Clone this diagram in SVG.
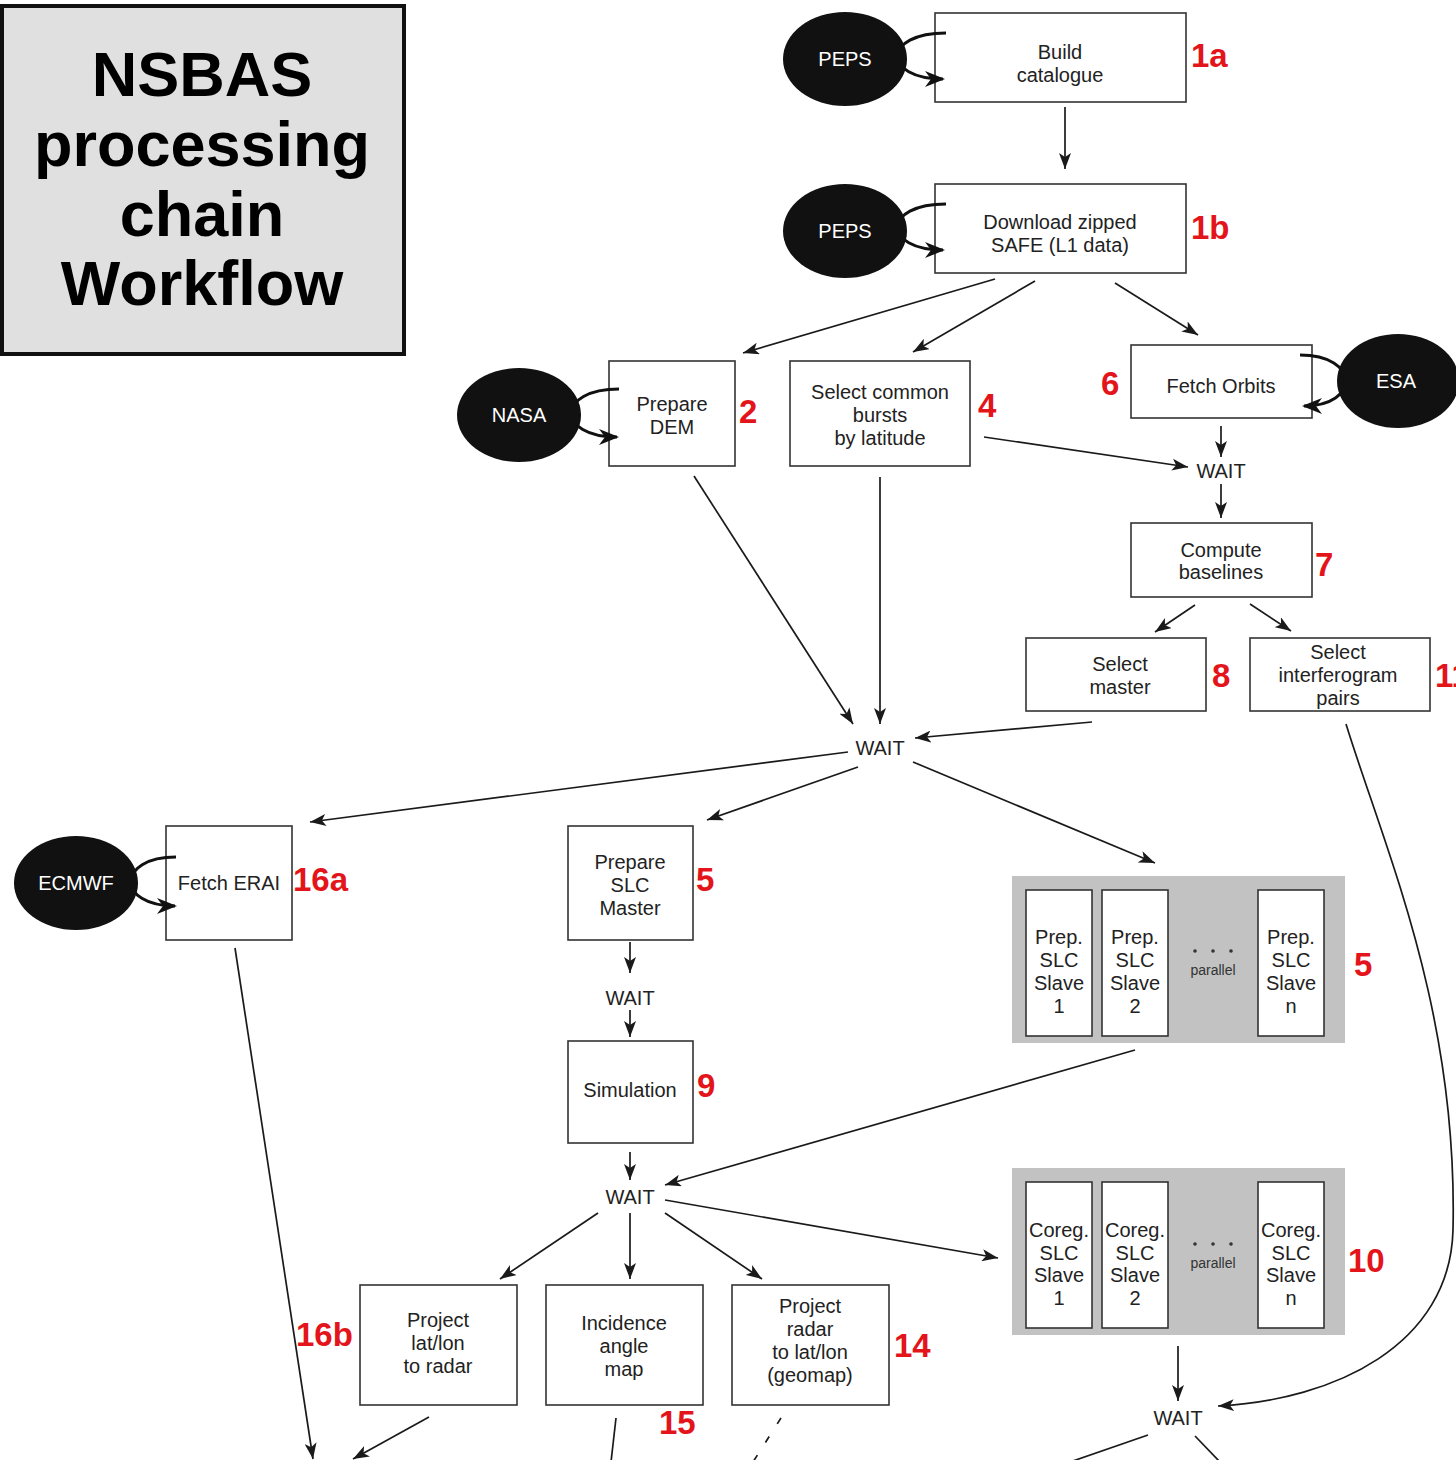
<svg xmlns="http://www.w3.org/2000/svg" width="1456" height="1460" viewBox="0 0 1456 1460">
<defs>
<marker id="ah" viewBox="0 0 16 12" refX="16" refY="6" markerWidth="16" markerHeight="12" markerUnits="userSpaceOnUse" orient="auto">
<path d="M0,0 L16,6 L0,12 L4,6 z" fill="#1a1a1a"/>
</marker>
<marker id="ahb" viewBox="0 0 20 16" refX="18" refY="8" markerWidth="20" markerHeight="16" markerUnits="userSpaceOnUse" orient="auto">
<path d="M0,0 L20,8 L0,16 L6,8 z" fill="#111"/>
</marker>
</defs>
<style>
.box{fill:#fff;stroke:#333;stroke-width:1.6}
.sub{fill:#fff;stroke:#333;stroke-width:1.6}
.grp{fill:#c2c2c2}
.src{fill:#111}
.t{font-family:"Liberation Sans",Arial,sans-serif;font-size:20px;fill:#222;text-anchor:middle}
.st{font-family:"Liberation Sans",Arial,sans-serif;font-size:20px;fill:#fff;text-anchor:middle}
.par{font-family:"Liberation Sans",Arial,sans-serif;font-size:14px;fill:#333;text-anchor:middle}
.n{font-family:"Liberation Sans",Arial,sans-serif;font-size:33px;font-weight:bold;fill:#e3151b}
.ttl{font-family:"Liberation Sans",Arial,sans-serif;font-size:63px;font-weight:bold;fill:#000;text-anchor:middle}
.c{fill:none;stroke:#1a1a1a;stroke-width:1.7}
.ca{fill:none;stroke:#1a1a1a;stroke-width:1.7;marker-end:url(#ah)}
.loop{fill:none;stroke:#111;stroke-width:3;marker-end:url(#ahb)}
</style>
<g id="title">
<rect x="2" y="6" width="402" height="348" fill="#e0e0e0" stroke="#111" stroke-width="4"/>
<text class="ttl" x="202" y="96">NSBAS</text>
<text class="ttl" x="202" y="166">processing</text>
<text class="ttl" x="202" y="236">chain</text>
<text class="ttl" x="202" y="305">Workflow</text>
</g>
<g id="connectors">
<line class="ca" x1="1065" y1="107" x2="1065" y2="169"/>
<line class="ca" x1="995" y1="279" x2="743" y2="353"/>
<line class="ca" x1="1035" y1="281" x2="913" y2="352"/>
<line class="ca" x1="1115" y1="283" x2="1198" y2="335"/>
<line class="ca" x1="1221" y1="426" x2="1221" y2="457"/>
<line class="ca" x1="984" y1="437" x2="1188" y2="467"/>
<line class="ca" x1="1221" y1="484" x2="1221" y2="518"/>
<line class="ca" x1="1195" y1="605" x2="1155" y2="632"/>
<line class="ca" x1="1250" y1="604" x2="1291" y2="631"/>
<line class="ca" x1="694" y1="476" x2="853" y2="724"/>
<line class="ca" x1="880" y1="477" x2="880" y2="724"/>
<line class="ca" x1="1092" y1="722" x2="915" y2="738"/>
<line class="ca" x1="848" y1="752" x2="310" y2="822"/>
<line class="ca" x1="858" y1="767" x2="707" y2="820"/>
<line class="ca" x1="913" y1="762" x2="1155" y2="863"/>
<line class="ca" x1="630" y1="942" x2="630" y2="973"/>
<line class="ca" x1="630" y1="1010" x2="630" y2="1037"/>
<line class="ca" x1="630" y1="1152" x2="630" y2="1180"/>
<line class="ca" x1="1135" y1="1050" x2="665" y2="1185"/>
<line class="ca" x1="598" y1="1213" x2="500" y2="1279"/>
<line class="ca" x1="630" y1="1213" x2="630" y2="1279"/>
<line class="ca" x1="665" y1="1213" x2="762" y2="1279"/>
<line class="ca" x1="665" y1="1200" x2="998" y2="1258"/>
<line class="ca" x1="1178" y1="1346" x2="1178" y2="1401"/>
<path class="ca" d="M1346,724 C1385,850 1458,1010 1453,1230 C1450,1345 1335,1400 1218,1406"/>
<line class="c" x1="1148" y1="1435" x2="1070" y2="1462"/>
<line class="c" x1="1195" y1="1436" x2="1220" y2="1462"/>
<line class="ca" x1="235" y1="948" x2="313" y2="1459"/>
<line class="ca" x1="429" y1="1417" x2="353" y2="1459"/>
<line class="c" x1="616" y1="1418" x2="611" y2="1462"/>
<line class="c" x1="781" y1="1418" x2="753" y2="1462" stroke-dasharray="7,15"/>
</g>
<g id="n1a">
<ellipse class="src" cx="845" cy="59" rx="62" ry="47"/>
<text class="st" x="845" y="66">PEPS</text>
<rect class="box" x="935" y="13" width="251" height="89"/>
<text class="t" x="1060" y="59">Build</text>
<text class="t" x="1060" y="82">catalogue</text>
<path class="loop" d="M946,33 C882,33 882,79 943,79"/>
<text class="n" x="1191" y="67">1a</text>
</g>
<g id="n1b">
<ellipse class="src" cx="845" cy="231" rx="62" ry="47"/>
<text class="st" x="845" y="238">PEPS</text>
<rect class="box" x="935" y="184" width="251" height="89"/>
<text class="t" x="1060" y="229">Download zipped</text>
<text class="t" x="1060" y="252">SAFE (L1 data)</text>
<path class="loop" d="M946,204 C882,204 882,250 943,250"/>
<text class="n" x="1191" y="239">1b</text>
</g>
<g id="n2">
<ellipse class="src" cx="519" cy="415" rx="62" ry="47"/>
<text class="st" x="519" y="422">NASA</text>
<rect class="box" x="609" y="361" width="126" height="105"/>
<text class="t" x="672" y="411">Prepare</text>
<text class="t" x="672" y="434">DEM</text>
<path class="loop" d="M619,389 C556,389 556,437 617,437"/>
<text class="n" x="739" y="423">2</text>
</g>
<g id="n4">
<rect class="box" x="790" y="361" width="180" height="105"/>
<text class="t" x="880" y="399">Select common</text>
<text class="t" x="880" y="422">bursts</text>
<text class="t" x="880" y="445">by latitude</text>
<text class="n" x="978" y="417">4</text>
</g>
<g id="n6">
<rect class="box" x="1131" y="345" width="181" height="73"/>
<text class="t" x="1221" y="393">Fetch Orbits</text>
<ellipse class="src" cx="1398" cy="381" rx="61" ry="47"/>
<text class="st" x="1396" y="388">ESA</text>
<path class="loop" d="M1300,355 C1360,355 1360,406 1304,406"/>
<text class="n" x="1101" y="395">6</text>
</g>
<g id="wait1"><text class="t" x="1221" y="478">WAIT</text></g>
<g id="n7">
<rect class="box" x="1131" y="523" width="181" height="74"/>
<text class="t" x="1221" y="557">Compute</text>
<text class="t" x="1221" y="579">baselines</text>
<text class="n" x="1315" y="576">7</text>
</g>
<g id="n8">
<rect class="box" x="1026" y="638" width="180" height="73"/>
<text class="t" x="1120" y="671">Select</text>
<text class="t" x="1120" y="694">master</text>
<text class="n" x="1212" y="687">8</text>
</g>
<g id="n11">
<rect class="box" x="1250" y="638" width="180" height="73"/>
<text class="t" x="1338" y="659">Select</text>
<text class="t" x="1338" y="682">interferogram</text>
<text class="t" x="1338" y="705">pairs</text>
<text class="n" x="1435" y="687">11</text>
</g>
<g id="wait2"><text class="t" x="880" y="755">WAIT</text></g>
<g id="n16a">
<ellipse class="src" cx="76" cy="883" rx="62" ry="47"/>
<text class="st" x="76" y="890">ECMWF</text>
<rect class="box" x="166" y="826" width="126" height="114"/>
<text class="t" x="229" y="890">Fetch ERAI</text>
<path class="loop" d="M176,857 C116,857 116,906 175,906"/>
<text class="n" x="293" y="891">16a</text>
</g>
<g id="n5m">
<rect class="box" x="568" y="826" width="125" height="114"/>
<text class="t" x="630" y="869">Prepare</text>
<text class="t" x="630" y="892">SLC</text>
<text class="t" x="630" y="915">Master</text>
<text class="n" x="696" y="891">5</text>
</g>
<g id="wait3"><text class="t" x="630" y="1005">WAIT</text></g>
<g id="n9">
<rect class="box" x="568" y="1041" width="125" height="102"/>
<text class="t" x="630" y="1097">Simulation</text>
<text class="n" x="697" y="1097">9</text>
</g>
<g id="n5s">
<rect class="grp" x="1012" y="876" width="333" height="167"/>
<rect class="sub" x="1026" y="890" width="66" height="146"/>
<rect class="sub" x="1102" y="890" width="66" height="146"/>
<rect class="sub" x="1258" y="890" width="66" height="146"/>
<text class="t" x="1059" y="944">Prep.</text><text class="t" x="1059" y="967">SLC</text><text class="t" x="1059" y="990">Slave</text><text class="t" x="1059" y="1013">1</text>
<text class="t" x="1135" y="944">Prep.</text><text class="t" x="1135" y="967">SLC</text><text class="t" x="1135" y="990">Slave</text><text class="t" x="1135" y="1013">2</text>
<text class="t" x="1291" y="944">Prep.</text><text class="t" x="1291" y="967">SLC</text><text class="t" x="1291" y="990">Slave</text><text class="t" x="1291" y="1013">n</text>
<circle cx="1195" cy="951" r="1.8" fill="#333"/><circle cx="1213" cy="951" r="1.8" fill="#333"/><circle cx="1231" cy="951" r="1.8" fill="#333"/>
<text class="par" x="1213" y="975">parallel</text>
<text class="n" x="1354" y="976">5</text>
</g>
<g id="wait4"><text class="t" x="630" y="1204">WAIT</text></g>
<g id="n10">
<rect class="grp" x="1012" y="1168" width="333" height="167"/>
<rect class="sub" x="1026" y="1182" width="66" height="146"/>
<rect class="sub" x="1102" y="1182" width="66" height="146"/>
<rect class="sub" x="1258" y="1182" width="66" height="146"/>
<text class="t" x="1059" y="1237">Coreg.</text><text class="t" x="1059" y="1260">SLC</text><text class="t" x="1059" y="1282">Slave</text><text class="t" x="1059" y="1305">1</text>
<text class="t" x="1135" y="1237">Coreg.</text><text class="t" x="1135" y="1260">SLC</text><text class="t" x="1135" y="1282">Slave</text><text class="t" x="1135" y="1305">2</text>
<text class="t" x="1291" y="1237">Coreg.</text><text class="t" x="1291" y="1260">SLC</text><text class="t" x="1291" y="1282">Slave</text><text class="t" x="1291" y="1305">n</text>
<circle cx="1195" cy="1244" r="1.8" fill="#333"/><circle cx="1213" cy="1244" r="1.8" fill="#333"/><circle cx="1231" cy="1244" r="1.8" fill="#333"/>
<text class="par" x="1213" y="1268">parallel</text>
<text class="n" x="1348" y="1272">10</text>
</g>
<g id="wait5"><text class="t" x="1178" y="1425">WAIT</text></g>
<g id="n16b">
<rect class="box" x="360" y="1285" width="157" height="120"/>
<text class="t" x="438" y="1327">Project</text>
<text class="t" x="438" y="1350">lat/lon</text>
<text class="t" x="438" y="1373">to radar</text>
<text class="n" x="296" y="1346">16b</text>
</g>
<g id="n15">
<rect class="box" x="546" y="1285" width="157" height="120"/>
<text class="t" x="624" y="1330">Incidence</text>
<text class="t" x="624" y="1353">angle</text>
<text class="t" x="624" y="1376">map</text>
<text class="n" x="659" y="1434">15</text>
</g>
<g id="n14">
<rect class="box" x="732" y="1285" width="157" height="120"/>
<text class="t" x="810" y="1313">Project</text>
<text class="t" x="810" y="1336">radar</text>
<text class="t" x="810" y="1359">to lat/lon</text>
<text class="t" x="810" y="1382">(geomap)</text>
<text class="n" x="894" y="1357">14</text>
</g>
</svg>
